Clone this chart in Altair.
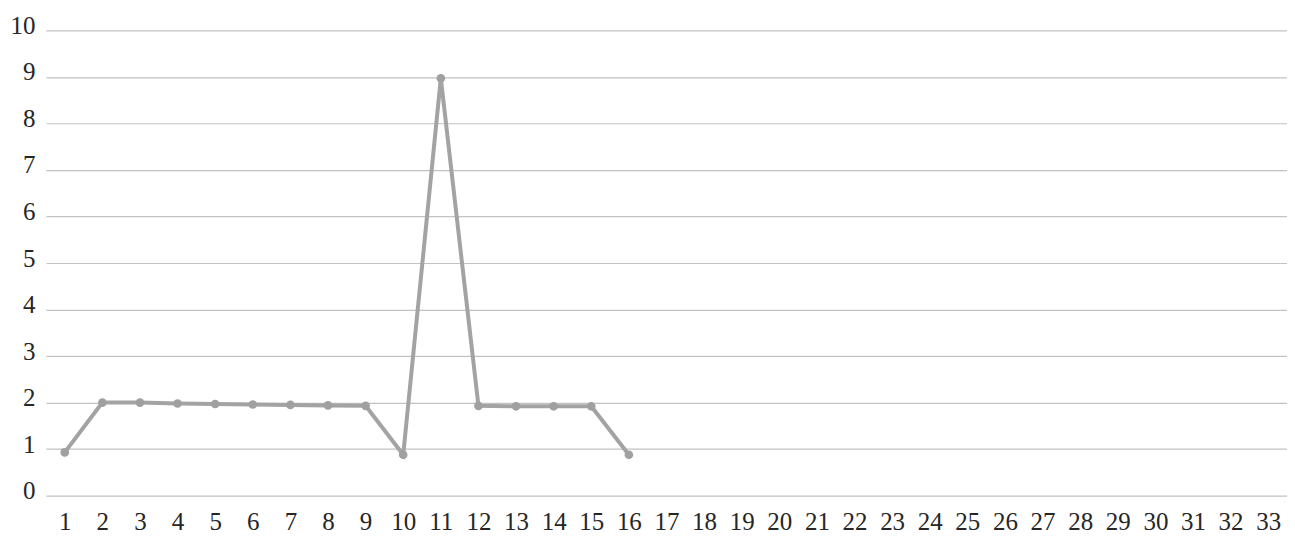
import altair as alt
import pandas as pd

categories = [str(i) for i in range(1, 34)]
x_vals = [str(i) for i in range(1, 17)]
y_vals = [0.93, 2.0, 2.0, 1.98, 1.97, 1.96, 1.95, 1.94, 1.93, 0.88, 8.97, 1.93, 1.92, 1.92, 1.92, 0.88]

df = pd.DataFrame({"x": x_vals, "y": y_vals})

x_enc = alt.X("x:N", sort=categories,
              scale=alt.Scale(domain=categories),
              axis=alt.Axis(title=None, labelAngle=0, domain=False, ticks=False,
                            grid=False, labelFont="Liberation Serif", labelFontSize=25,
                            labelColor="#262626", labelPadding=14))
y_enc = alt.Y("y:Q",
              scale=alt.Scale(domain=[0, 10], nice=False),
              axis=alt.Axis(title=None, values=list(range(0, 11)), domain=False, ticks=False,
                            grid=True, gridColor="#c2c2c2", gridWidth=1.2,
                            labelFont="Liberation Serif", labelFontSize=25,
                            labelColor="#262626", labelPadding=11, labelOffset=-5))

base = alt.Chart(df)
line = base.mark_line(color="#a3a3a3", strokeWidth=4).encode(x=x_enc, y=y_enc)
pts = base.mark_point(filled=True, color="#a0a0a0", size=75, opacity=1).encode(x=x_enc, y=y_enc)

chart = (line + pts).properties(
    width=1243, height=466,
    autosize=alt.AutoSizeParams(type="none"),
    padding={"left": 38, "top": 22, "right": 0, "bottom": 40},
    background="white",
).configure_view(stroke=None)

chart.save("out.html", embed_options={"renderer": "svg", "actions": False})
